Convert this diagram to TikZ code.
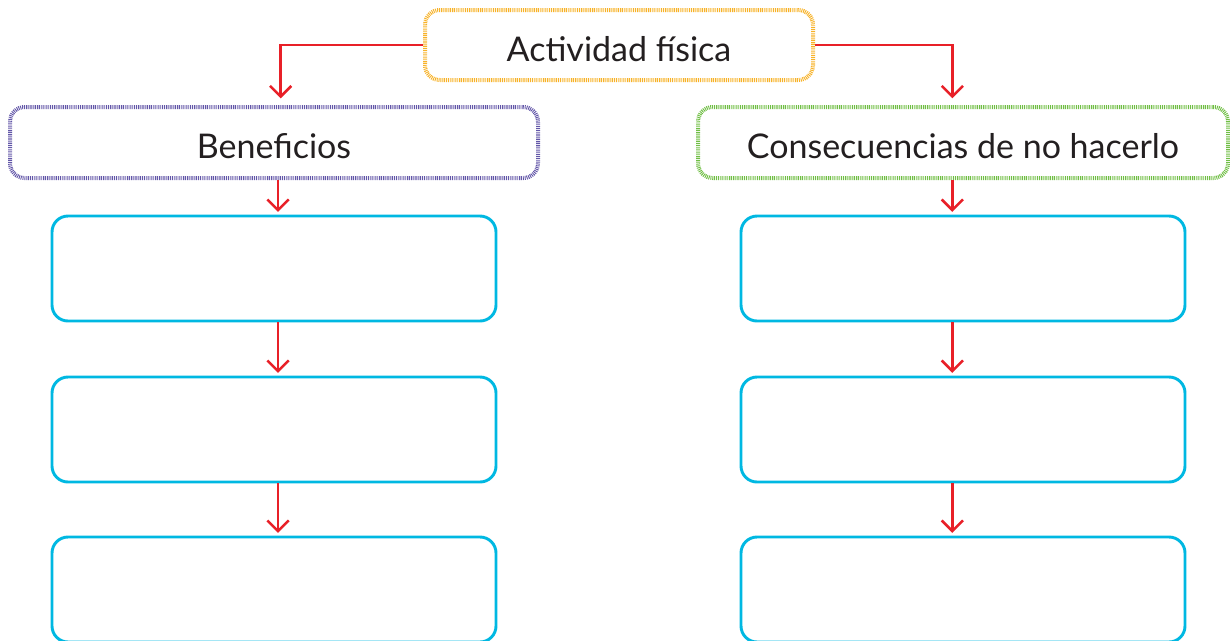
\documentclass[tikz,border=0pt]{standalone}
\usepackage{fontspec}
\setmainfont{Lato}
\usetikzlibrary{arrows.meta}
\definecolor{arrowred}{RGB}{232,32,40}
\definecolor{titleorange}{RGB}{247,178,40}
\definecolor{benpurple}{RGB}{98,86,168}
\definecolor{congreen}{RGB}{112,190,68}
\definecolor{boxcyan}{RGB}{0,184,226}
\definecolor{textgray}{RGB}{35,31,32}
\begin{document}
\begin{tikzpicture}[x=0.75pt, y=-0.75pt,
    headbox/.style={draw, rounded corners=11pt, line width=3pt,
        dash pattern=on 0.7pt off 0.7pt, inner sep=0pt,
        text height=24pt, text depth=0pt,
        text=textgray, font=\fontsize{25.5}{30}\selectfont},
    emptybox/.style={draw=boxcyan, rounded corners=12pt, line width=2.2pt,
        minimum width=333pt, minimum height=78.75pt, inner sep=0pt},
    arr/.style={draw=arrowred, line width=1.9pt,
        -{Straight Barb[length=8pt, width=16pt, line width=1.9pt]}}]
    \useasboundingbox (0,0) rectangle (1230,640);

    % --- Title ---
    \node[headbox, draw=titleorange, minimum width=291pt, minimum height=52.5pt]
        (act) at (619,45) {Actividad física};

    % --- Two branches ---
    \node[headbox, draw=benpurple, minimum width=396pt, minimum height=53.25pt]
        (ben) at (274,142.5) {Beneficios};
    \node[headbox, draw=congreen, minimum width=397.5pt, minimum height=53.25pt]
        (con) at (963,142.5) {Consecuencias de no hacerlo};

    % --- Empty boxes, left ---
    \node[emptybox] (ben1) at (274,268.5) {};
    \node[emptybox] (ben2) at (274,429.5) {};
    \node[emptybox] (ben3) at (274,589.5) {};

    % --- Empty boxes, right ---
    \node[emptybox] (con1) at (963,268.5) {};
    \node[emptybox] (con2) at (963,429.5) {};
    \node[emptybox] (con3) at (963,589.5) {};

    % --- Arrows ---
    \draw[arr, shorten >=5pt] (act.west) -| ([xshift=5pt]ben.north);
    \draw[arr, shorten >=5pt] (act.east) -| ([xshift=-8pt]con.north);
    \draw[arr, shorten >=2pt] ([xshift=3pt]ben.south) -- ([xshift=3pt]ben1.north);
    \draw[arr, shorten >=2pt] ([xshift=3pt]ben1.south) -- ([xshift=3pt]ben2.north);
    \draw[arr, shorten >=2pt] ([xshift=3pt]ben2.south) -- ([xshift=3pt]ben3.north);
    \draw[arr, shorten >=2pt] ([xshift=-8pt]con.south) -- ([xshift=-8pt]con1.north);
    \draw[arr, shorten >=2pt] ([xshift=-8pt]con1.south) -- ([xshift=-8pt]con2.north);
    \draw[arr, shorten >=2pt] ([xshift=-8pt]con2.south) -- ([xshift=-8pt]con3.north);
\end{tikzpicture}
\end{document}
